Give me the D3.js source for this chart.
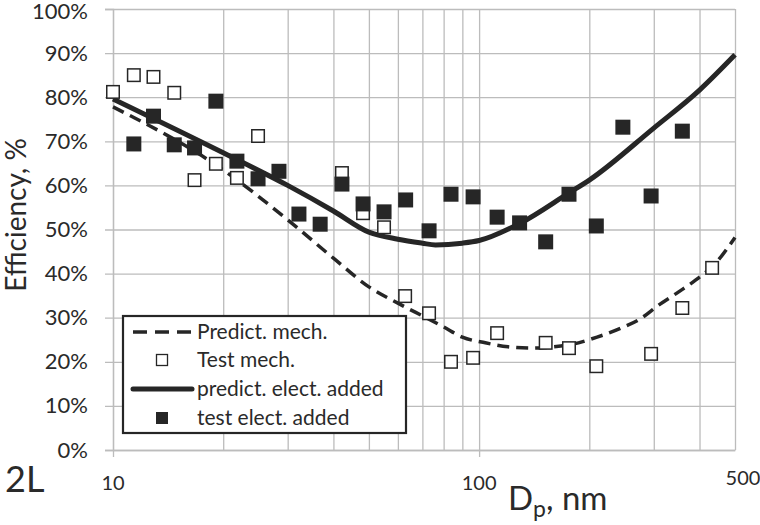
<!DOCTYPE html>
<html><head><meta charset="utf-8">
<script src="https://cdn.jsdelivr.net/npm/d3@7"></script>
<style>body{margin:0;background:#fff}svg{display:block}text{font-family:Lato,"Open Sans",sans-serif;fill:#2a2a2a}</style>
</head><body><svg id="c" width="760" height="525"></svg>
<script>
const xTicks=[10,20,30,40,50,60,70,80,90,100,200,300,400,500];
const xLabels=[10,100,500];
const yTicks=[0,0.1,0.2,0.3,0.4,0.5,0.6,0.7,0.8,0.9,1.0];

const predMechX=[10,20,30,40,50,60,72,80,90,104,120,140,160,180,210,245,275,310,350,390,445,500];
const predMechY=[77.8,63.5,52.2,43.5,37.0,33.3,29.9,27.9,25.6,24.3,23.4,23.1,23.4,24.0,25.6,27.7,29.7,32.9,35.8,38.5,42.6,48.2];

const predElecX=[10,20,30,40,50,60,70,76,90,100,130,176,200,300,400,500];
const predElecY=[79.6,67.4,60.0,54.2,49.4,47.8,46.9,46.5,46.9,47.5,51.5,58.3,61.2,73.0,81.6,89.6];

const testMechX=[10,11.4,12.9,14.7,16.7,19.1,21.8,24.9,42.2,48.2,55,62.8,73,83.8,96.3,112,152,176,209,295,359,433];
const testMechY=[81.2,85.0,84.6,81.0,61.2,64.9,61.7,71.2,62.8,53.7,50.5,34.9,31.0,20.0,20.9,26.5,24.3,23.1,19.0,21.8,32.2,41.3];

const testElecX=[11.4,12.9,14.7,16.7,19.1,21.8,24.9,28.4,32.2,36.8,42.2,48.2,55,63,73,83.8,96.3,112,129,152,176,209,247,295,359];
const testElecY=[69.4,75.7,69.2,68.5,79.1,65.5,61.5,63.2,53.5,51.2,60.3,55.8,54.0,56.7,49.7,58.0,57.4,52.8,51.5,47.2,58.0,50.8,73.2,57.6,72.3];

const legendItems=["Predict. mech.","Test mech.","predict. elect. added","test elect. added"];

const svg=d3.select("#c");
const X0=113,X1=735,Y0=450,Y1=9;
const x=d3.scaleLog().domain([10,500]).range([X0,X1]);
const y=d3.scaleLinear().domain([0,1]).range([Y0,Y1]);
const dark="#262626", grid="#bcbcbc";

// horizontal grid + y axis
const ya=svg.append("g").attr("transform",`translate(${X0},0)`)
  .call(d3.axisLeft(y).tickValues(yTicks).tickFormat(d3.format(".0%")).tickSize(8).tickPadding(17));
ya.select(".domain").attr("stroke",grid).attr("stroke-width",1.3);
ya.selectAll(".tick line").attr("x1",-8).attr("x2",X1-X0).attr("stroke",grid).attr("stroke-width",1.3);
ya.selectAll(".tick text").attr("font-size",22).attr("font-family","Lato").attr("fill","#2a2a2a")
  .attr("dy",d=>d===1?"0.42em":"0.32em");

// vertical grid + x axis
const xa=svg.append("g").attr("transform",`translate(0,${Y0})`)
  .call(d3.axisBottom(x).tickValues(xTicks).tickFormat("").tickSize(0));
xa.select(".domain").attr("stroke",grid).attr("stroke-width",1.3);
xa.selectAll(".tick line").attr("y1",d=>(d===10||d===100)?7:0).attr("y2",Y1-Y0).attr("stroke",grid).attr("stroke-width",1.3);

svg.append("g").selectAll("text").data(xLabels).join("text")
  .attr("x",d=>x(d)+(d===500?8:0)).attr("y",d=>d===500?485:490)
  .attr("text-anchor","middle").attr("font-size",20).text(d=>d);

// lines
const mk=(xs,ys)=>xs.map((v,i)=>[x(v),y(ys[i]/100)]);
const line=d3.line().curve(d3.curveMonotoneX);
svg.append("path").attr("d",line(mk(predMechX,predMechY))).attr("fill","none")
  .attr("stroke",dark).attr("stroke-width",3.5).attr("stroke-dasharray","12,7");
svg.append("path").attr("d",line(mk(predElecX,predElecY))).attr("fill","none")
  .attr("stroke",dark).attr("stroke-width",5);

// markers
const S=14;
svg.append("g").selectAll("rect").data(testMechX.map((v,i)=>[v,testMechY[i]])).join("rect")
  .attr("x",d=>x(d[0])-S/2+0.75).attr("y",d=>y(d[1]/100)-S/2+0.75).attr("width",S-1.5).attr("height",S-1.5)
  .attr("fill","#fff").attr("stroke",dark).attr("stroke-width",1.5);
svg.append("g").selectAll("rect").data(testElecX.map((v,i)=>[v,testElecY[i]])).join("rect")
  .attr("x",d=>x(d[0])-7.5).attr("y",d=>y(d[1]/100)-7.5).attr("width",15).attr("height",15)
  .attr("fill",dark);

// legend
const lg=svg.append("g");
lg.append("rect").attr("x",123).attr("y",316).attr("width",283).attr("height",117)
  .attr("fill","#fff").attr("stroke",dark).attr("stroke-width",2.2);
const rows=[332,360,389,418];
lg.append("line").attr("x1",133).attr("x2",192).attr("y1",rows[0]).attr("y2",rows[0])
  .attr("stroke",dark).attr("stroke-width",3.5).attr("stroke-dasharray","14,8");
lg.append("rect").attr("x",156.5).attr("y",rows[1]-5.5).attr("width",11).attr("height",11)
  .attr("fill","#fff").attr("stroke",dark).attr("stroke-width",1.3);
lg.append("line").attr("x1",133).attr("x2",192).attr("y1",rows[2]).attr("y2",rows[2])
  .attr("stroke",dark).attr("stroke-width",5).attr("stroke-linecap","round");
lg.append("rect").attr("x",156).attr("y",rows[3]-6).attr("width",12).attr("height",12).attr("fill",dark);
lg.selectAll("text").data(legendItems).join("text")
  .attr("x",197).attr("y",(d,i)=>rows[i]).attr("dy","0.35em").attr("font-size",21).text(d=>d);

// titles
svg.append("text").attr("transform","translate(26,215) rotate(-90)").attr("text-anchor","middle")
  .attr("font-size",28).text("Efficiency, %");
const xt=svg.append("text").attr("x",508).attr("y",510).attr("font-size",33);
xt.append("tspan").text("D");
xt.append("tspan").attr("font-size",23).attr("dy",7).text("p");
xt.append("tspan").attr("dy",-7).text(", nm");
svg.append("text").attr("x",5).attr("y",492).attr("font-size",36).text("2L");
</script></body></html>
